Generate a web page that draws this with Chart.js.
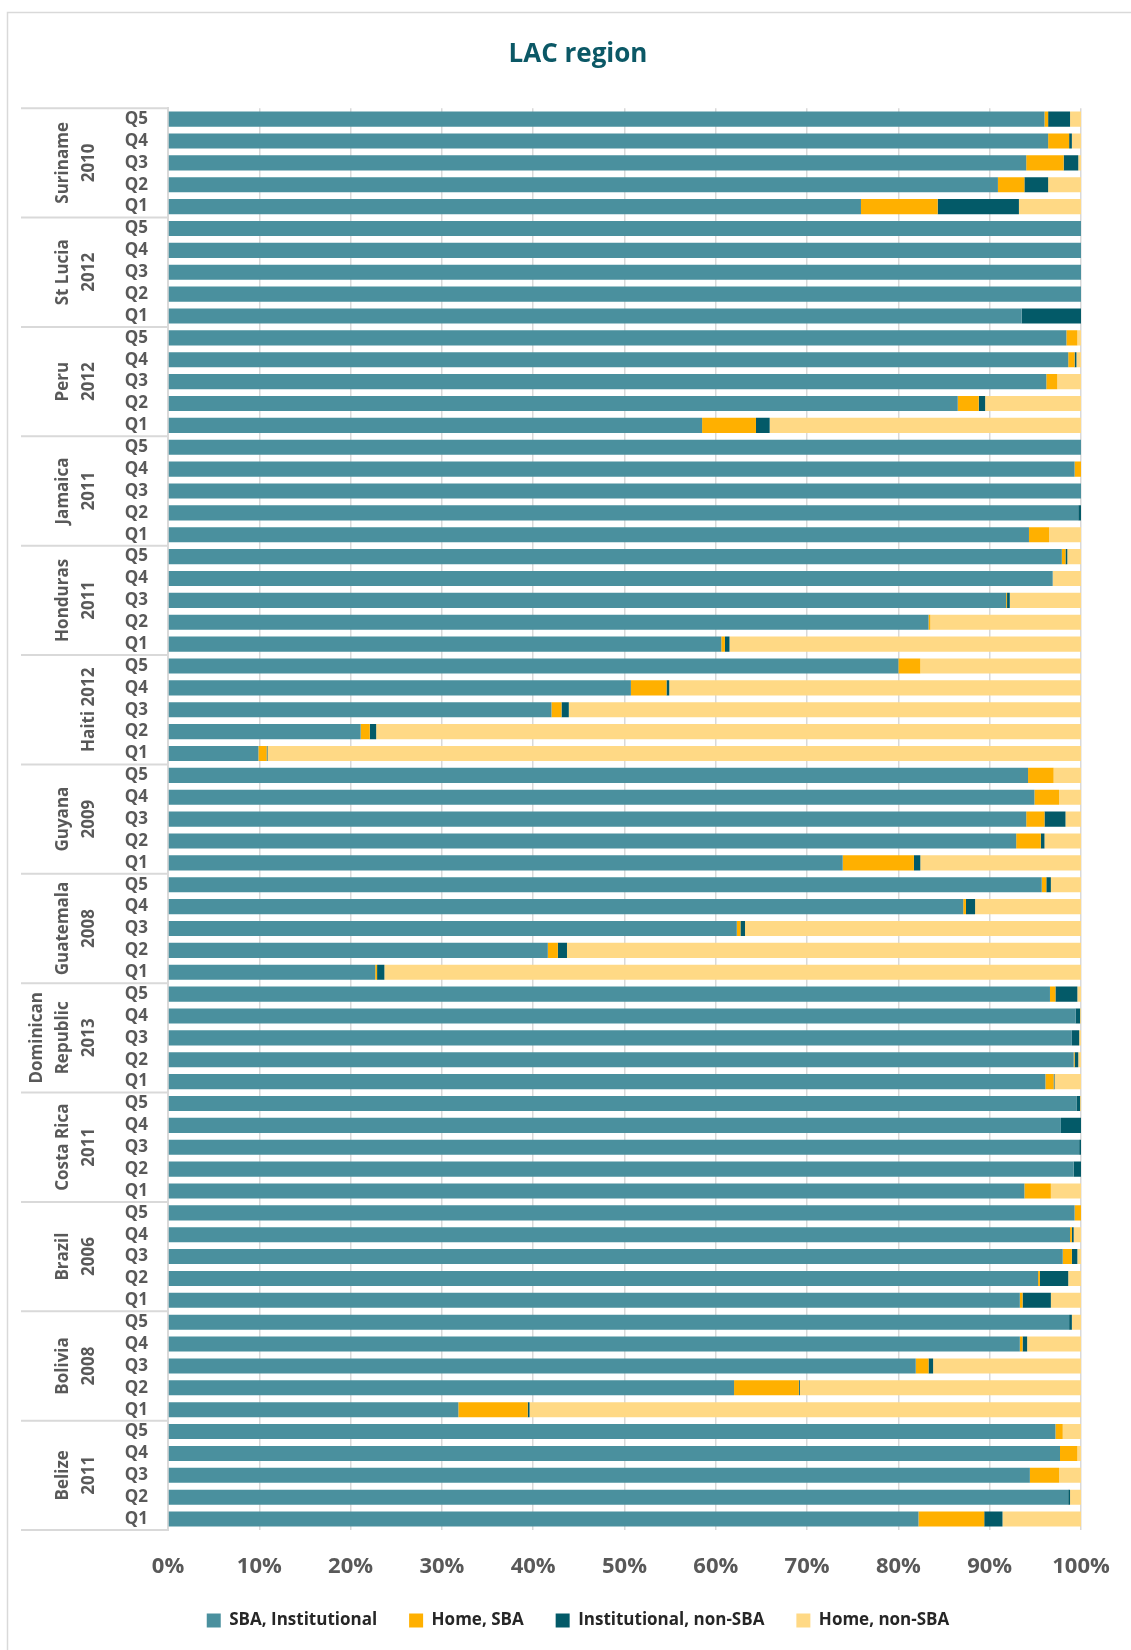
<!DOCTYPE html>
<html>
<head>
<meta charset="utf-8">
<script src="https://cdn.jsdelivr.net/npm/chart.js@4.4.1/dist/chart.umd.min.js"></script>
<style>
  html, body { margin: 0; padding: 0; background: #ffffff; }
  #wrap { width: 1131px; height: 1650px; }
</style>
</head>
<body>
<div id="wrap"><canvas id="lacChart" width="1131" height="1650"></canvas></div>
<script>
// Countries (top to bottom), each with quintiles Q5..Q1
const countries = [
    ['Suriname', '2010'], ['St Lucia', '2012'], ['Peru', '2012'], ['Jamaica', '2011'],
    ['Honduras', '2011'], ['Haiti 2012'], ['Guyana', '2009'], ['Guatemala', '2008'],
    ['Dominican', 'Republic', '2013'], ['Costa Rica', '2011'], ['Brazil', '2006'],
    ['Bolivia', '2008'], ['Belize', '2011']
];
const quintiles = ['Q5', 'Q4', 'Q3', 'Q2', 'Q1'];
const xTicks = [0, 10, 20, 30, 40, 50, 60, 70, 80, 90, 100];

const sbaInstitutional = [
    96.0, 96.4, 94.0, 90.9, 75.9,
    100, 100, 100, 100, 93.5,
    98.4, 98.6, 96.2, 86.5, 58.5,
    100, 99.3, 100, 99.7, 94.3,
    97.9, 96.9, 91.8, 83.3, 60.6,
    80.0, 50.7, 42.0, 21.1, 9.9,
    94.2, 94.9, 94.0, 92.9, 73.9,
    95.7, 87.1, 62.3, 41.6, 22.7,
    96.6, 99.4, 99.0, 99.2, 96.1,
    99.5, 97.8, 99.8, 99.2, 93.8,
    99.3, 98.8, 98.0, 95.3, 93.3,
    98.7, 93.3, 81.9, 62.0, 31.8,
    97.2, 97.7, 94.4, 98.6, 82.2
];
const homeSba = [
    0.4, 2.3, 4.1, 2.9, 8.4,
    0, 0, 0, 0, 0,
    1.2, 0.7, 1.2, 2.3, 5.9,
    0, 0.7, 0, 0, 2.2,
    0.4, 0, 0.1, 0.2, 0.4,
    2.4, 3.9, 1.1, 1.0, 0.9,
    2.8, 2.7, 2.0, 2.7, 7.8,
    0.5, 0.3, 0.4, 1.1, 0.2,
    0.6, 0, 0, 0.1, 0.9,
    0, 0, 0, 0, 2.9,
    0.7, 0.2, 1.0, 0.2, 0.3,
    0, 0.3, 1.4, 7.1, 7.6,
    0.8, 1.9, 3.2, 0, 7.2
];
const instNonSba = [
    2.4, 0.3, 1.6, 2.6, 8.9,
    0, 0, 0, 0, 6.5,
    0, 0.2, 0, 0.7, 1.5,
    0, 0, 0, 0.3, 0,
    0.2, 0, 0.3, 0, 0.5,
    0, 0.3, 0.8, 0.7, 0.1,
    0, 0, 2.3, 0.4, 0.7,
    0.5, 1.0, 0.5, 1.0, 0.8,
    2.4, 0.5, 0.8, 0.4, 0.1,
    0.4, 2.2, 0.2, 0.8, 0,
    0, 0.2, 0.6, 3.1, 3.1,
    0.3, 0.5, 0.5, 0.1, 0.2,
    0, 0, 0, 0.2, 2.0
];
const homeNonSba = [
    1.2, 1.0, 0.3, 3.6, 6.8,
    0, 0, 0, 0, 0,
    0.4, 0.5, 2.6, 10.5, 34.1,
    0, 0, 0, 0, 3.5,
    1.5, 3.1, 7.8, 16.5, 38.5,
    17.6, 45.1, 56.1, 77.2, 89.1,
    3.0, 2.4, 1.7, 4.0, 17.6,
    3.3, 11.6, 36.8, 56.3, 76.3,
    0.4, 0.1, 0.2, 0.3, 2.9,
    0.1, 0, 0, 0, 3.3,
    0, 0.8, 0.4, 1.4, 3.3,
    1.0, 5.9, 16.2, 30.8, 60.4,
    2.0, 0.4, 2.4, 1.2, 8.6
];

const seriesNames = ['SBA, Institutional', 'Home, SBA', 'Institutional, non-SBA', 'Home, non-SBA'];
const seriesColors = ['#4A909E', '#FFB000', '#035A68', '#FFD985'];

const labels = [];
countries.forEach(() => quintiles.forEach(q => labels.push(q)));

// Frame, country group labels and separators
const groupPlugin = {
    id: 'groupLabels',
    beforeDraw(chart) {
        const ctx = chart.ctx;
        ctx.save();
        ctx.fillStyle = '#ffffff';
        ctx.fillRect(0, 0, chart.width, chart.height);
        ctx.strokeStyle = '#d9d9d9';
        ctx.lineWidth = 1.5;
        ctx.strokeRect(7.5, 12.5, chart.width + 20, chart.height + 20);
        ctx.restore();
    },
    afterDraw(chart) {
        const ctx = chart.ctx;
        const y = chart.scales.y;
        const area = chart.chartArea;
        const n = quintiles.length;
        ctx.save();
        ctx.strokeStyle = '#d9d9d9';
        ctx.lineWidth = 2;
        for (let g = 0; g <= countries.length; g++) {
            let yy;
            if (g === 0) yy = area.top;
            else if (g === countries.length) yy = area.bottom;
            else yy = (y.getPixelForValue(g * n - 1) + y.getPixelForValue(g * n)) / 2;
            ctx.beginPath();
            ctx.moveTo(21, yy);
            ctx.lineTo(area.left, yy);
            ctx.stroke();
        }
        ctx.fillStyle = '#595959';
        ctx.font = 'bold 17px "Open Sans"';
        ctx.textAlign = 'center';
        ctx.textBaseline = 'middle';
        countries.forEach((lines, g) => {
            const cy = y.getPixelForValue(g * n + 2);
            lines.forEach((txt, i) => {
                const cx = 89 - (lines.length - 1 - i) * 26;
                ctx.save();
                ctx.translate(cx, cy);
                ctx.rotate(-Math.PI / 2);
                ctx.fillText(txt, 0, 0);
                ctx.restore();
            });
        });
        ctx.restore();
    }
};

new Chart(document.getElementById('lacChart').getContext('2d'), {
    type: 'bar',
    data: {
        labels: labels,
        datasets: seriesNames.map((name, i) => ({
            label: name,
            data: [sbaInstitutional, homeSba, instNonSba, homeNonSba][i],
            backgroundColor: seriesColors[i],
            borderWidth: 0,
            barPercentage: 0.69,
            categoryPercentage: 1
        }))
    },
    options: {
        indexAxis: 'y',
        responsive: false,
        animation: false,
        devicePixelRatio: 1,
        layout: {
            padding: { left: 75, right: 50, top: 0, bottom: 11 }
        },
        plugins: {
            title: {
                display: true,
                text: 'LAC region',
                color: '#0B5866',
                font: { family: 'Open Sans', size: 26, weight: 'bold' },
                padding: { top: 39, bottom: 38 }
            },
            legend: {
                position: 'bottom',
                labels: {
                    boxWidth: 14,
                    boxHeight: 14,
                    padding: 32,
                    color: '#262626',
                    font: { family: 'Open Sans', size: 17, weight: 'bold' }
                }
            },
            tooltip: { enabled: false }
        },
        scales: {
            x: {
                stacked: true,
                min: 0,
                max: 100,
                afterBuildTicks(scale) {
                    scale.ticks = xTicks.map(v => ({ value: v }));
                },
                afterFit(scale) {
                    scale.height = 50;
                },
                grid: {
                    color: '#d9d9d9',
                    lineWidth: 1.5,
                    drawTicks: true,
                    tickLength: 24,
                    tickColor: 'rgba(0,0,0,0)'
                },
                border: { display: false },
                ticks: {
                    padding: 0,
                    color: '#595959',
                    font: { family: 'Open Sans', size: 22, weight: 'bold' },
                    callback: v => v + '%'
                }
            },
            y: {
                stacked: true,
                afterFit(scale) {
                    scale.width = 93;
                },
                grid: { display: false, drawTicks: false },
                border: { display: true, color: '#d9d9d9', width: 2 },
                ticks: {
                    padding: 20,
                    autoSkip: false,
                    color: '#595959',
                    font: { family: 'Open Sans', size: 17, weight: 'bold' }
                }
            }
        }
    },
    plugins: [groupPlugin]
});
</script>
</body>
</html>
